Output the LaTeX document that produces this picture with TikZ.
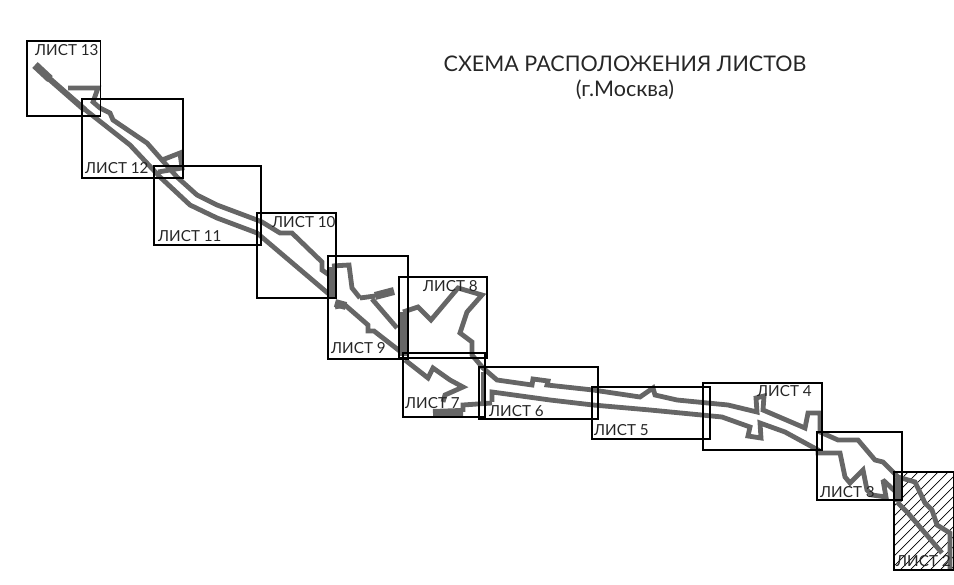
\documentclass[tikz,border=0pt]{standalone}
\usepackage{fontspec}
\setmainfont{Lato}
\begin{document}
\begin{tikzpicture}[x=1pt,y=-1pt,
  road/.style={draw=roadgray,line width=4.8pt,line join=miter,miter limit=3},
  thickroad/.style={road,line width=8pt},
  sheet/.style={draw=black,line width=1.8pt},
  sheetlabel/.style={font=\fontsize{15.2}{15.2}\selectfont,text=black!85,inner sep=0pt,anchor=west},
  titletext/.style={font=\fontsize{21.5}{22}\selectfont,text=black!85,inner sep=0pt}]
\definecolor{roadgray}{HTML}{666666}
\useasboundingbox (0,0) rectangle (954,585);
% hatching of sheet 2
\begin{scope}
  \clip (894,472) rectangle (954,570);
  \foreach \k in {0,...,18} {
    \draw[line width=0.7pt] ({780+\k*10},580) -- ++(120,-120);
  }
\end{scope}
% lower strand, north-west part
\path[road] (60,88) -- (83,108) -- (130,145) -- (160,177) -- (190,205) -- (217,218) -- (257,233) -- (330,295);
\path[road,line width=6pt] (45,75) -- (85,110);
\path[thickroad] (35,65) -- (50,79);
% upper strand, north-west part
\path[road] (68,88) -- (98,88) -- (93,102) -- (100,108) -- (110,113) -- (113,120) -- (147,143) -- (162,160) -- (180,153) -- (182,168) -- (158,172);
\path[road] (162,160) -- (177,177) -- (197,195) -- (217,205) -- (257,220) -- (262,222) -- (280,233) -- (292,233) -- (322,262) -- (322,270) -- (332,277);
% sheet 9
\path[thickroad] (332,267) -- (332,298);
\path[road] (332,266) -- (349,265) -- (352,288) -- (360,298);
\path[road] (360,298) -- (375,296);
\path[thickroad] (375,296) -- (394,291);
\path[road] (372,299) -- (397,328);
\path[road] (335,307) -- (345,305) -- (368,325) -- (368,331) -- (374,331) -- (401,352);
\path[thickroad] (335,303) -- (346,306);
% sheet 8
\path[thickroad] (403,312) -- (403,356);
\path[road] (403,312) -- (418,307) -- (431,320) -- (458,288) -- (482,295) -- (467,312) -- (460,333) -- (472,342) -- (472,355) -- (483,368) -- (497,380) -- (532,385) -- (533,379) -- (548,381) -- (547,385) -- (593,390) -- (640,397) -- (653,388) -- (655,395) -- (677,400) -- (728,405) -- (757,412) -- (756,398) -- (764,396) -- (763,410) -- (805,428) -- (808,413) -- (820,413) -- (820,432) -- (838,440) -- (858,440) -- (875,460) -- (883,462) -- (898,477) -- (915,482) -- (925,503) -- (932,510) -- (937,525) -- (950,533) -- (950,570);
% sheet 7
\path[road] (405,360) -- (428,378) -- (433,368) -- (450,380) -- (463,387) -- (445,395) -- (443,402);
\path[thickroad] (433,413) -- (463,412);
\path[road] (463,412) -- (463,405) -- (492,403);
% sheets 6 - 4, lower strand
\path[road] (483,372) -- (483,404);
\path[road] (492,402) -- (492,392) -- (550,400) -- (593,405) -- (650,410) -- (722,417) -- (750,427) -- (748,436) -- (761,438) -- (760,423) -- (785,432) -- (818,450) -- (818,453) -- (840,453) -- (845,477) -- (850,483) -- (863,470) -- (867,490) -- (872,495) -- (886,497) -- (883,480) -- (898,494);
% sheets 3 - 2
\path[thickroad] (898,478) -- (898,502);
\path[road] (897,502) -- (908,513) -- (942,553);
% sheets
\draw[sheet] (894,472) rectangle (953.5,570);
\draw[sheet] (27,41) rectangle (100.5,116);
\draw[sheet] (82,99) rectangle (183,178);
\draw[sheet] (154,166) rectangle (261,245);
\draw[sheet] (257,213) rectangle (336,298);
\draw[sheet] (328,256) rectangle (408,359);
\draw[sheet] (399,277) rectangle (487,358);
\draw[sheet] (403,353) rectangle (485,417);
\draw[sheet] (479,367) rectangle (598,419);
\draw[sheet] (592,387) rectangle (710,439);
\draw[sheet] (703,383) rectangle (822,450);
\draw[sheet] (817,432) rectangle (902,500);
% labels
\node[sheetlabel] (l13) at (35,50) {ЛИСТ 13};
\node[sheetlabel] (l12) at (85,168) {ЛИСТ 12};
\node[sheetlabel] (l11) at (158,236) {ЛИСТ 11};
\node[sheetlabel] (l10) at (272,222) {ЛИСТ 10};
\node[sheetlabel] (l9) at (331,348) {ЛИСТ 9};
\node[sheetlabel] (l8) at (423,286) {ЛИСТ 8};
\node[sheetlabel] (l7) at (405,403) {ЛИСТ 7};
\node[sheetlabel] (l6) at (489,411) {ЛИСТ 6};
\node[sheetlabel] (l5) at (594,430) {ЛИСТ 5};
\node[sheetlabel] (l4) at (757,391) {ЛИСТ 4};
\node[sheetlabel] (l3) at (820,492) {ЛИСТ 3};
\node[sheetlabel] (l2) at (896,561) {ЛИСТ 2};
\node[titletext] (t1) at (625,64) {СХЕМА РАСПОЛОЖЕНИЯ ЛИСТОВ};
\node[titletext] (t2) at (625,90) {(г.Москва)};
\end{tikzpicture}
\end{document}
